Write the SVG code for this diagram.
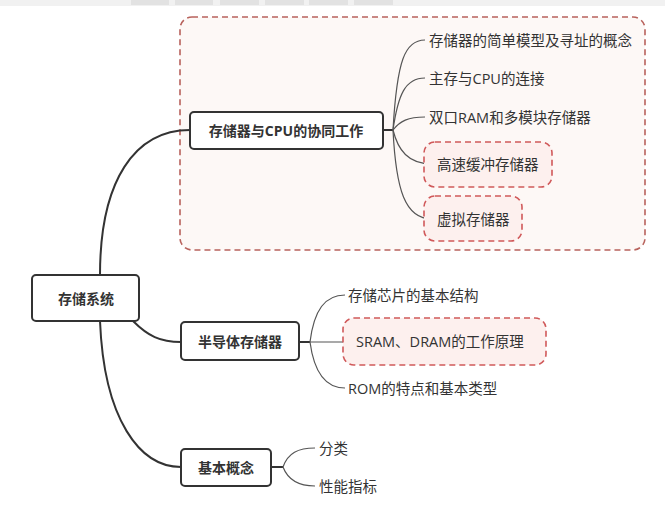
<svg xmlns="http://www.w3.org/2000/svg" width="665" height="508" viewBox="0 0 665 508">
<style>
  text { font-family: "Open Sans", "Noto Sans CJK SC", sans-serif; fill: #333; font-size: 14.5px; }
  .node rect { fill: #fff; stroke: #333; stroke-width: 2; }
  .node text { font-weight: bold; font-size: 14px; text-anchor: middle; dominant-baseline: central; }
  .leaf text { dominant-baseline: central; }
  .hl { fill: #fdf0ee; stroke: #d0595a; stroke-width: 1.6; stroke-dasharray: 6 4; }
  .main { fill: none; stroke: #333; stroke-width: 2; }
  .sub { fill: none; stroke: #555; stroke-width: 1.2; }
  .tab { fill: #e2e2e2; }
</style>
<rect x="0" y="0" width="665" height="508" fill="#fff"/>
<rect x="0" y="0" width="665" height="6" fill="#f1f1f1"/>
<rect class="tab" x="131" y="0" width="38" height="5"/>
<rect class="tab" x="175" y="0" width="38" height="5"/>
<rect class="tab" x="220" y="0" width="39" height="5"/>
<rect class="tab" x="265" y="0" width="39" height="5"/>
<rect class="tab" x="309" y="0" width="39" height="5"/>
<rect class="tab" x="354" y="0" width="39" height="5"/>

<g id="group-cpu">
  <rect x="180" y="17" width="465" height="233" rx="12" fill="#fdf8f6" stroke="#b8625c" stroke-width="1.6" stroke-dasharray="6 4"/>
</g>

<g id="connectors">
  <path class="main" d="M100,275 C100,180 135,130 190,130"/>
  <path class="main" d="M133,321 C148,336 160,342 181,342"/>
  <path class="main" d="M100,321 C104,420 140,467 181,467"/>
  <path class="main" d="M383,130 L393,130"/>
  <path class="main" d="M299,342 L310,342"/>
  <path class="main" d="M271,467 L283,467"/>
  <path class="sub" d="M393,130 C397,60 405,40 425,40"/>
  <path class="sub" d="M393,130 C398,95 405,78 425,78"/>
  <path class="sub" d="M393,130 C400,121 408,117 425,117"/>
  <path class="sub" d="M393,130 C398,150 408,164 432,164"/>
  <path class="sub" d="M393,130 C396,190 405,219 432,219"/>
  <path class="sub" d="M310,342 C314,310 325,295 345,295"/>
  <path class="sub" d="M310,342 L350,342"/>
  <path class="sub" d="M310,342 C314,372 325,388 345,388"/>
  <path class="sub" d="M283,467 C288,453 298,448 315,448"/>
  <path class="sub" d="M283,467 C288,480 298,486 315,486"/>
</g>

<g id="root" class="node">
  <rect x="32" y="275" width="107" height="46" rx="4"/>
  <text x="86" y="298">存储系统</text>
</g>
<g id="cpu" class="node">
  <rect x="190" y="112" width="193" height="37" rx="4"/>
  <text x="286" y="130">存储器与CPU的协同工作</text>
</g>
<g id="semi" class="node">
  <rect x="181" y="322" width="118" height="38" rx="4"/>
  <text x="240" y="341">半导体存储器</text>
</g>
<g id="basic" class="node">
  <rect x="181" y="449" width="90" height="37" rx="4"/>
  <text x="226" y="467">基本概念</text>
</g>

<g id="leaf-model" class="leaf"><text x="429" y="40">存储器的简单模型及寻址的概念</text></g>
<g id="leaf-main" class="leaf"><text x="429" y="78">主存与CPU的连接</text></g>
<g id="leaf-dual" class="leaf"><text x="429" y="117">双口RAM和多模块存储器</text></g>
<g id="leaf-cache" class="leaf">
  <rect class="hl" x="424" y="142" width="128" height="45" rx="11"/>
  <text x="437" y="164">高速缓冲存储器</text>
</g>
<g id="leaf-virtual" class="leaf">
  <rect class="hl" x="424" y="196" width="98" height="45" rx="11"/>
  <text x="437" y="219">虚拟存储器</text>
</g>
<g id="leaf-chip" class="leaf"><text x="348" y="295">存储芯片的基本结构</text></g>
<g id="leaf-sram" class="leaf">
  <rect class="hl" x="343" y="318" width="203" height="47" rx="11"/>
  <text x="356" y="341">SRAM、DRAM的工作原理</text>
</g>
<g id="leaf-rom" class="leaf"><text x="348" y="388">ROM的特点和基本类型</text></g>
<g id="leaf-class" class="leaf"><text x="319" y="448">分类</text></g>
<g id="leaf-perf" class="leaf"><text x="319" y="486">性能指标</text></g>
</svg>
